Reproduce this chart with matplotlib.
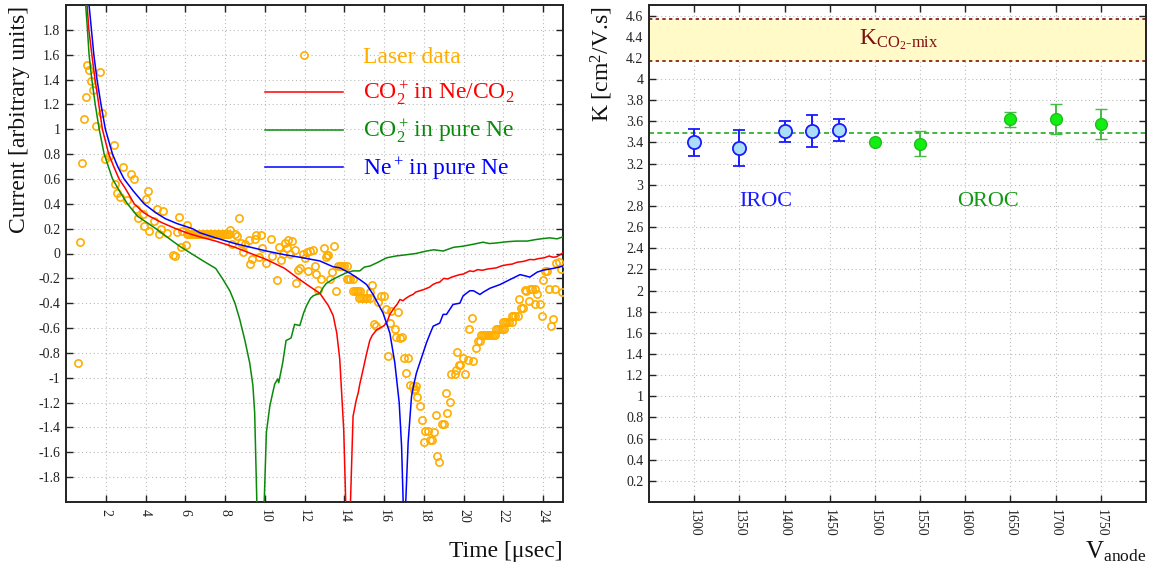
import matplotlib
matplotlib.use("Agg")
import matplotlib.pyplot as plt
from matplotlib.lines import Line2D

plt.rcParams['font.family'] = ['Liberation Serif', 'DejaVu Serif']
plt.rcParams['mathtext.fontset'] = 'custom'
plt.rcParams['mathtext.rm'] = 'Liberation Serif'
plt.rcParams['mathtext.it'] = 'Liberation Serif:italic'
plt.rcParams['mathtext.bf'] = 'Liberation Serif:bold'
plt.rcParams['axes.unicode_minus'] = False

# ---------------- left panel: signal shapes ----------------
laser_t = [0.58, 0.69, 0.79, 0.91, 1.0, 1.08, 1.16, 1.25, 1.36, 1.5, 1.70, 1.83, 1.97, 2.17,
           2.39, 2.47, 2.59, 2.71, 2.89, 3.09, 3.29, 3.43, 3.51, 3.6, 3.85, 3.93, 4.01, 4.10,
           4.18, 4.43, 4.6, 4.68, 4.8, 4.9, 5.1, 5.36, 5.49, 5.56, 5.69, 5.77, 5.86, 6.03, 6.11,
           6.1, 6.2, 6.3, 6.4, 6.5, 6.6, 6.7, 6.8, 6.9, 7.0, 7.1, 7.2, 7.3, 7.4, 7.5, 7.6, 7.7,
           7.8, 7.9, 8.0, 8.1, 8.2,
           8.27, 8.36, 8.49, 8.58, 8.69, 8.78, 8.88, 8.99, 9.21, 9.28, 9.38, 9.5, 9.58, 9.72,
           9.80, 9.88, 10.08, 10.29, 10.38, 10.59, 10.7, 10.8, 10.92, 11.0, 11.12, 11.17, 11.29,
           11.39, 11.51, 11.59, 11.68, 11.76, 11.9, 12.01, 12.1, 12.18, 12.26, 12.4, 12.51, 12.6,
           12.68, 12.85, 12.98, 13.07, 13.11, 13.18, 13.27, 13.39, 13.47, 13.57,
           13.69, 13.8, 13.9, 14.0, 14.11, 14.11, 14.2, 14.3, 14.44, 14.44, 14.53, 14.62, 14.7,
           14.78, 14.74, 14.85, 14.95, 15.05, 15.15, 15.28,
           15.28, 15.37, 15.48, 15.6, 15.7, 15.87, 15.99, 16.12, 16.2, 16.29, 16.37, 16.54, 16.62,
           16.7, 16.8, 16.91, 16.99, 17.09, 17.21, 17.29, 17.45, 17.5, 17.58, 17.63, 17.68, 17.8,
           17.91, 18.0, 18.05, 18.21, 18.3, 18.43, 18.5, 18.6, 18.67, 18.77, 18.89, 19.0, 19.1,
           19.19, 19.3, 19.39, 19.56, 19.64, 19.69, 19.77, 19.81,
           19.98, 20.09, 20.23, 20.28, 20.4, 20.48, 20.6, 20.73, 20.85, 20.9, 21.0, 21.1, 21.2,
           21.3, 21.4, 21.5, 21.6, 21.65, 21.75, 21.85, 21.95, 22.05, 22.0, 22.1, 22.2, 22.3,
           22.45, 22.41, 22.5, 22.6, 22.74, 22.8, 22.91, 22.99, 23.08, 23.16, 23.28, 23.33, 23.45,
           23.58, 23.58, 23.7, 23.83, 23.92, 24.0, 24.08, 24.2, 24.29, 24.39, 24.5, 24.59, 24.67,
           24.8, 24.92, 24.97]
laser_i = [-0.88, 0.094, 0.73, 1.079, 1.262, 1.516, 1.473, 1.387, 1.315, 1.025, 1.463, 1.133, 0.757, 0.783,
           0.872, 0.561, 0.483, 0.453, 0.698, 0.427, 0.636, 0.601, 0.362, 0.282, 0.314, 0.22, 0.44, 0.502,
           0.185, 0.26, 0.362, 0.153, 0.199, 0.341, 0.166, -0.016, -0.021, 0.172, 0.29, 0.056, 0.18, 0.072, 0.233,
           0.153, 0.153, 0.153, 0.153, 0.153, 0.153, 0.153, 0.153, 0.153, 0.153, 0.153, 0.153, 0.153, 0.153, 0.153,
           0.153, 0.153, 0.153, 0.153, 0.153, 0.153, 0.153,
           0.193, 0.08, 0.153, 0.14, 0.287, 0.086, 0.011, 0.08, 0.105, -0.083, -0.048, 0.113, 0.145, -0.027,
           0.15, 0.046, -0.08, 0.113, -0.021, -0.215, 0.051, -0.054, 0.0, 0.086, 0.046, 0.105, -0.008,
           0.097, 0.032, -0.236, -0.129, -0.115, -0.008, -0.04, 0.011, -0.142, 0.019, 0.027, -0.097, -0.169,
           -0.29, -0.209, 0.046, -0.027, -0.016, -0.011, -0.209, -0.15, 0.059, -0.298,
           -0.097, -0.097, -0.097, -0.097, -0.097, -0.204, -0.204, -0.204, -0.204, -0.303, -0.303, -0.303, -0.303,
           -0.303, -0.357, -0.357, -0.357, -0.357, -0.357, -0.357,
           -0.31, -0.25, -0.565, -0.585, -0.39, -0.34, -0.34, -0.443, -0.827, -0.558, -0.46, -0.606, -0.67,
           -0.47, -0.68, -0.67, -0.84, -0.961, -0.84, -1.055, -1.063, -1.1, -1.09, -1.063, -1.157, -1.229,
           -1.342, -1.519, -1.43, -1.43, -1.503, -1.503, -1.433, -1.299, -1.632, -1.68, -1.369, -1.369, -1.122,
           -1.283, -1.197, -0.966, -0.966, -0.934, -0.79, -0.9, -0.9,
           -0.84, -0.969, -0.859, -0.607, -0.518, -0.867, -0.76, -0.706, -0.706, -0.652, -0.652, -0.652, -0.652,
           -0.652, -0.652, -0.652, -0.652, -0.604, -0.604, -0.604, -0.604, -0.604, -0.55, -0.55, -0.55, -0.55,
           -0.55, -0.5, -0.5, -0.5, -0.5, -0.365, -0.437, -0.437, -0.296, -0.303, -0.384, -0.284, -0.284,
           -0.284, -0.41, -0.325, -0.403, -0.5, -0.215, -0.14, -0.14, -0.284, -0.585, -0.526, -0.284, -0.075,
           -0.07, -0.123, -0.31]

# CO2+ drifting in Ne/CO2
red_t = [0.95, 1.06, 1.15, 1.3, 1.46, 1.65, 1.83, 2.15, 2.4, 2.67, 3.0, 3.43, 3.9, 4.2, 4.8, 5.52,
         6.1, 6.73, 7.53, 8.5, 9.3,
         10.08, 11.0, 11.76, 12.3, 12.77, 13.2, 13.44, 13.62, 13.77, 13.97, 14.07, 14.18,
         14.31, 14.44, 14.6, 14.7, 14.78, 14.95, 15.1, 15.28, 15.4, 15.5, 15.65, 15.8, 16.0, 16.15,
         16.29, 16.5, 16.65, 16.8, 16.95, 17.1, 17.3, 17.45, 17.6, 17.8, 18.0, 18.3, 18.45, 18.64,
         18.8, 19.0, 19.2, 19.4, 19.6, 19.81, 20.0, 20.3, 20.5, 20.7, 20.95, 21.2, 21.45, 21.66,
         21.9, 22.2, 22.45, 22.7, 22.95, 23.1, 23.33, 23.55, 23.8, 24.05, 24.3, 24.5, 24.67, 24.85, 25.0]
red_i = [2.4, 2.0, 1.8, 1.6, 1.4, 1.2, 1.0, 0.8, 0.7, 0.6, 0.52, 0.4, 0.33, 0.3, 0.25, 0.2,
         0.165, 0.134, 0.10, 0.05, 0.0,
         -0.048, -0.12, -0.21, -0.27, -0.32, -0.42, -0.5, -0.64, -0.85, -1.42, -2.0, -2.6,
         -2.0, -1.31, -1.18, -1.12, -1.05, -0.93, -0.82, -0.70, -0.66, -0.64, -0.61, -0.60, -0.58, -0.55,
         -0.49, -0.44, -0.41, -0.37, -0.38, -0.36, -0.34, -0.33, -0.31, -0.30, -0.29, -0.27, -0.25, -0.236,
         -0.23, -0.20, -0.205, -0.19, -0.18, -0.17, -0.165, -0.14, -0.145, -0.13, -0.135, -0.125, -0.12, -0.115,
         -0.10, -0.09, -0.085, -0.07, -0.065, -0.06, -0.048, -0.05, -0.04, -0.035, -0.02, -0.03, -0.027, -0.01, 0.005]

# CO2+ drifting in pure Ne
green_t = [0.9, 0.99, 1.08, 1.16, 1.3, 1.47, 1.67, 1.92, 2.34, 2.7, 3.09, 3.6, 4.52, 5.36, 5.8,
           6.3, 6.9, 7.53, 7.9, 8.24, 8.5,
           8.74, 9.0, 9.24, 9.4, 9.49, 9.6, 9.8,
           9.97, 10.08, 10.25, 10.4, 10.5, 10.65, 10.7, 10.9, 11.07, 11.2, 11.32, 11.5, 11.76, 11.95,
           12.1, 12.3, 12.44, 12.6, 12.77, 12.95, 13.1, 13.4, 13.77, 14.11, 14.44, 14.78, 15.0, 15.3,
           15.7, 16.12, 16.6, 17.12, 17.6, 18.1, 18.5, 18.97, 19.5, 19.98, 20.5, 20.98, 21.3, 21.66,
           22.2, 22.66, 23.2, 23.66, 24.0, 24.33, 24.7, 25.0]
green_i = [2.3, 2.0, 1.8, 1.6, 1.4, 1.2, 1.0, 0.8, 0.6, 0.5, 0.4, 0.3, 0.2, 0.1, 0.05,
           0.0, -0.06, -0.12, -0.21, -0.30, -0.40,
           -0.53, -0.7, -0.88, -1.06, -1.28, -2.0, -2.6,
           -2.0, -1.44, -1.23, -1.12, -1.05, -1.01, -1.04, -0.88, -0.70, -0.69, -0.68, -0.57, -0.58, -0.48,
           -0.42, -0.36, -0.34, -0.33, -0.32, -0.27, -0.24, -0.21, -0.18, -0.155, -0.14, -0.14, -0.11, -0.10,
           -0.07, -0.035, -0.02, -0.01, 0.0, 0.019, 0.03, 0.02, 0.05, 0.059, 0.075, 0.091, 0.08, 0.085,
           0.095, 0.1, 0.1, 0.113, 0.12, 0.126, 0.118, 0.134]

# Ne+ drifting in pure Ne
blue_t = [1.05, 1.16, 1.28, 1.4, 1.56, 1.76, 1.98, 2.34, 2.6, 2.92, 3.4, 3.93, 4.5, 5.0, 5.6, 6.36,
          6.73, 7.53, 8.5, 9.3, 10.08,
          11.0, 11.76, 12.77, 13.44, 13.77, 14.3, 14.78, 15.12, 15.45, 15.95, 16.29, 16.54, 16.76,
          16.88, 16.96, 17.03,
          17.09, 17.21, 17.38, 17.5, 17.63, 17.88, 18.13, 18.3, 18.47, 18.8, 18.97, 19.14, 19.47,
          19.81, 19.98, 20.31, 20.5, 20.82, 21.0, 21.32, 21.83, 22.33, 22.84, 23.1, 23.33, 23.7,
          24.0, 24.5, 24.8, 25.0]
blue_i = [2.3, 2.0, 1.8, 1.6, 1.4, 1.2, 1.0, 0.8, 0.7, 0.6, 0.5, 0.4, 0.33, 0.28, 0.24, 0.2,
          0.167, 0.126, 0.08, 0.05, 0.02,
          -0.01, -0.03, -0.06, -0.107, -0.115, -0.16, -0.21, -0.25, -0.33, -0.48, -0.64, -0.88, -1.2,
          -1.55, -2.0, -2.6,
          -2.0, -1.52, -1.15, -1.05, -0.96, -0.84, -0.72, -0.65, -0.585, -0.56, -0.49, -0.49, -0.41,
          -0.40, -0.34, -0.30, -0.30, -0.33, -0.31, -0.28, -0.25, -0.21, -0.17, -0.18, -0.19, -0.15,
          -0.134, -0.12, -0.11, -0.10]

left_xticks = [2, 4, 6, 8, 10, 12, 14, 16, 18, 20, 22, 24]
left_yticks = [-1.8, -1.6, -1.4, -1.2, -1.0, -0.8, -0.6, -0.4, -0.2, 0.0,
               0.2, 0.4, 0.6, 0.8, 1.0, 1.2, 1.4, 1.6, 1.8]

legend_labels = ['Laser data', r'CO$_2^+\!$ in Ne/CO$_2$', r'CO$_2^+\!$ in pure Ne',
                 r'Ne$^+\!$ in pure Ne']

# ---------------- right panel: mobility vs anode voltage ----------------
iroc_v = [1300, 1350, 1400, 1430, 1460]
iroc_k = [3.40, 3.345, 3.505, 3.51, 3.52]
iroc_err = [0.13, 0.17, 0.10, 0.15, 0.105]
oroc_v = [1500, 1550, 1650, 1700, 1750]
oroc_k = [3.40, 3.39, 3.62, 3.62, 3.575]
oroc_err = [0.0, 0.115, 0.07, 0.14, 0.145]
k_mean = 3.485
k_co2_low, k_co2_high = 4.168, 4.568

right_xticks = [1300, 1350, 1400, 1450, 1500, 1550, 1600, 1650, 1700, 1750]
right_yticks = [0.2, 0.4, 0.6, 0.8, 1.0, 1.2, 1.4, 1.6, 1.8, 2.0, 2.2, 2.4,
                2.6, 2.8, 3.0, 3.2, 3.4, 3.6, 3.8, 4.0, 4.2, 4.4, 4.6]

C_ORANGE = '#ffae00'
C_RED = '#ff0000'
C_GREEN = '#0a8a0a'
C_BLUE = '#0000ff'
C_MAROON = '#7f1010'


def fmt(v):
    return '{:g}'.format(round(v, 2) + 0.0)


def style_axes(ax):
    for s in ax.spines.values():
        s.set_linewidth(1.4)
        s.set_color('#222222')
    ax.tick_params(direction='in', top=True, right=True, length=5, width=1.0,
                   colors='#222222', labelsize=10)
    ax.tick_params(axis='x', labelrotation=-90, pad=5)
    ax.tick_params(axis='y', pad=4)
    ax.grid(True, linestyle=(0, (1, 2.5)), color='#bbbbbb', linewidth=0.8)
    ax.set_axisbelow(True)


fig = plt.figure(figsize=(11.5, 5.67), dpi=100)
axL = fig.add_axes([66 / 1150, 65 / 567, 497 / 1150, 497 / 567])
axR = fig.add_axes([649 / 1150, 65 / 567, 497 / 1150, 497 / 567])

# left panel
axL.plot(laser_t, laser_i, linestyle='none', marker='o', ms=5.2, mfc='none',
         mec=C_ORANGE, mew=1.2, zorder=3)
axL.plot(red_t, red_i, color=C_RED, lw=1.1, zorder=4)
axL.plot(green_t, green_i, color=C_GREEN, lw=1.1, zorder=4)
axL.plot(blue_t, blue_i, color=C_BLUE, lw=1.1, zorder=4)
axL.set_xlim(0, 25)
axL.set_ylim(-2, 2)
axL.set_xticks(left_xticks)
axL.set_xticklabels([fmt(v) for v in left_xticks])
axL.set_yticks(left_yticks)
axL.set_yticklabels([fmt(v) for v in left_yticks])
style_axes(axL)

# legend entries
row_y = [0.899, 0.825, 0.748, 0.674]
colors = [C_ORANGE, C_RED, C_GREEN, C_BLUE]
for i, (lab, c, yy) in enumerate(zip(legend_labels, colors, row_y)):
    if i == 0:
        h = Line2D([0.479], [yy], transform=axL.transAxes, linestyle='none', marker='o',
                   ms=5.2, mfc='none', mec=c, mew=1.2)
    else:
        h = Line2D([0.400, 0.557], [yy, yy], transform=axL.transAxes, color=c, lw=1.1)
    axL.add_line(h)
    axL.text(0.598, yy - 0.0155, lab, transform=axL.transAxes, color=c, fontsize=17,
             ha='left', va='baseline')

fig.text(20 / 1150, 1 - 6 / 567, 'Current [arbitrary units]', rotation=90, ha='center',
         va='top', fontsize=17, color='#111111')
fig.text(563 / 1150, 1 - 556.5 / 567, 'Time [\u03bcsec]', ha='right', va='baseline',
         fontsize=17, color='#111111')

# right panel
axR.axhspan(k_co2_low, k_co2_high, color='#fffac8', zorder=1, lw=0)
axR.axhline(k_co2_low, color=C_MAROON, lw=1.2, linestyle=(0, (2, 2)), zorder=2)
axR.axhline(k_co2_high, color=C_MAROON, lw=1.2, linestyle=(0, (2, 2)), zorder=2)
axR.axhline(k_mean, color='#22aa22', lw=1.2, linestyle=(0, (3, 2)), zorder=2)
axR.errorbar(iroc_v, iroc_k, yerr=iroc_err, fmt='o', ms=9.5, mfc='#aaddf8', mec='#1a1aff',
             mew=1.3, ecolor='#1a1aff', elinewidth=1.4, capsize=4.5, capthick=1.4, zorder=4)
axR.errorbar(oroc_v, oroc_k, yerr=oroc_err, fmt='o', ms=8.5, mfc='#11ee11', mec='#22bb22',
             mew=1.0, ecolor='#44bb44', elinewidth=1.4, capsize=4.5, capthick=1.4, zorder=4)
axR.text(1482, 4.33, r'K$_{\mathrm{CO_2}\text{-mix}}$', color=C_MAROON, fontsize=17,
         ha='left', va='baseline', zorder=5)
axR.text(1379, 2.795, 'IROC', color='#1a1aff', fontsize=16, ha='center', va='baseline')
axR.text(1625, 2.795, 'OROC', color='#119911', fontsize=16, ha='center', va='baseline')
axR.set_xlim(1250, 1800)
axR.set_ylim(0, 4.7)
axR.set_xticks(right_xticks)
axR.set_xticklabels([fmt(v) for v in right_xticks])
axR.set_yticks(right_yticks)
axR.set_yticklabels([fmt(v) for v in right_yticks])
style_axes(axR)

fig.text(602 / 1150, 1 - 6 / 567, r'K [cm$^2$/V.s]', rotation=90, ha='center', va='top',
         fontsize=17, color='#111111')
fig.text(1146 / 1150, 1 - 558 / 567, r'V$_{\mathrm{anode}}$', ha='right', va='baseline',
         fontsize=18, color='#111111')

fig.savefig('out.png', dpi=100)
